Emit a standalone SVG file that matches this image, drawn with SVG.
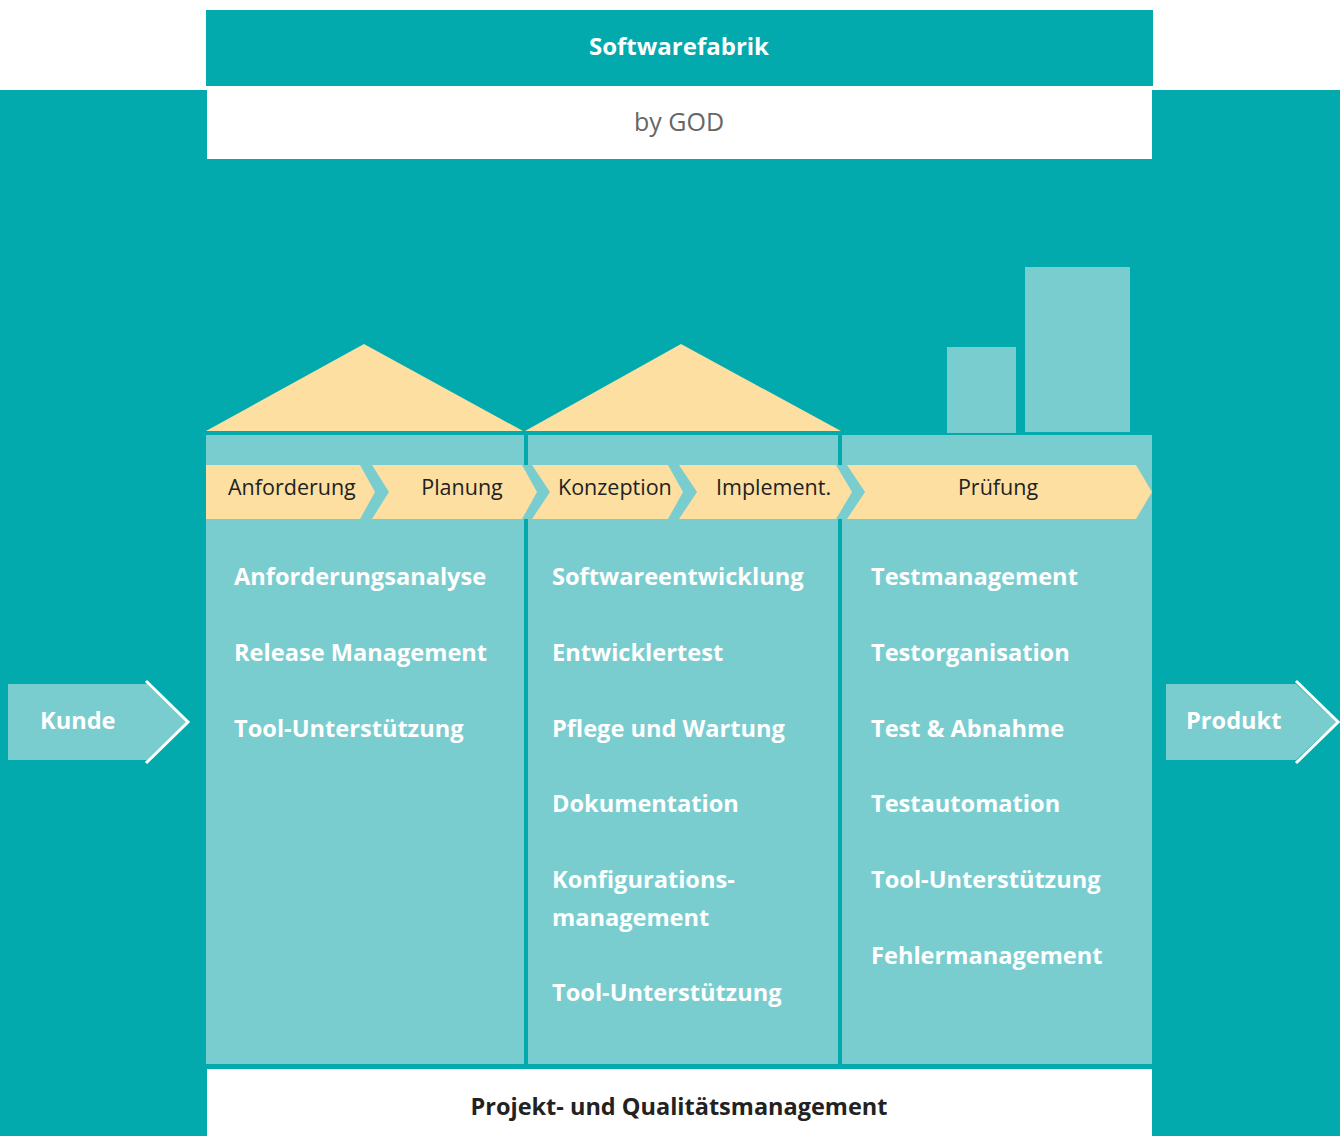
<svg xmlns="http://www.w3.org/2000/svg" width="1340" height="1136" viewBox="0 0 1340 1136">
<style>
.dark{fill:#02AAAD}
.light{fill:#7ACDCF}
.roof{fill:#FDDFA1}
.wh{fill:#FFFFFF}
text{font-family:"Open Sans","Liberation Sans",sans-serif}
.lbl{font-size:23.6px;font-weight:bold;fill:#FFFFFF}
.chev{font-size:21.5px;fill:#222222}
.arr{fill:none;stroke:#FFFFFF;stroke-width:3}
</style>
<rect x="0" y="0" width="1340" height="1136" class="wh"/>
<rect x="0" y="90" width="1340" height="1046" class="dark"/>
<g id="header">
<rect x="206" y="10" width="947" height="76" class="dark"/>
<text x="679" y="55" text-anchor="middle" style="font-size:24px;font-weight:bold;fill:#fff">Softwarefabrik</text>
</g>
<g id="subheader">
<rect x="207" y="90" width="945" height="69" class="wh"/>
<text x="679" y="131" text-anchor="middle" style="font-size:25px;fill:#666">by GOD</text>
</g>
<g id="roofs">
<polygon points="206,431 364,344 523,431" class="roof"/>
<polygon points="525,431 681,344 841,431" class="roof"/>
<rect x="947" y="347" width="69" height="86" class="light"/>
<rect x="1025" y="267" width="105" height="165" class="light"/>
</g>
<g id="panel">
<rect x="206" y="435" width="946" height="629" class="light"/>
<rect x="524" y="435" width="4" height="30" class="dark"/>
<rect x="524" y="519" width="4" height="545" class="dark"/>
<rect x="838" y="435" width="4" height="30" class="dark"/>
<rect x="838" y="519" width="4" height="545" class="dark"/>
</g>
<g id="phases">
<polygon points="206,465 360,465 375,492 360,519 206,519" class="roof"/>
<polygon points="372,465 522,465 537,492 522,519 372,519 389,492" class="roof"/>
<polygon points="532,465 668,465 683,492 668,519 532,519 550,492" class="roof"/>
<polygon points="679,465 836,465 852,492 836,519 679,519 697,492" class="roof"/>
<polygon points="847,465 1136,465 1152,492 1136,519 847,519 865,492" class="roof"/>
<text x="228" y="495" class="chev">Anforderung</text>
<text x="462" y="495" class="chev" text-anchor="middle">Planung</text>
<text x="558" y="495" class="chev">Konzeption</text>
<text x="716" y="495" class="chev">Implement.</text>
<text x="998" y="495" class="chev" text-anchor="middle">Prüfung</text>
</g>
<g id="col1">
<text x="234" y="585" class="lbl">Anforderungsanalyse</text>
<text x="234" y="661" class="lbl">Release Management</text>
<text x="234" y="737" class="lbl">Tool-Unterstützung</text>
</g>
<g id="col2">
<text x="552" y="585" class="lbl">Softwareentwicklung</text>
<text x="552" y="661" class="lbl">Entwicklertest</text>
<text x="552" y="737" class="lbl">Pflege und Wartung</text>
<text x="552" y="812" class="lbl">Dokumentation</text>
<text x="552" y="888" class="lbl">Konfigurations-</text>
<text x="552" y="926" class="lbl">management</text>
<text x="552" y="1001" class="lbl">Tool-Unterstützung</text>
</g>
<g id="col3">
<text x="871" y="585" class="lbl">Testmanagement</text>
<text x="871" y="661" class="lbl">Testorganisation</text>
<text x="871" y="737" class="lbl">Test &amp; Abnahme</text>
<text x="871" y="812" class="lbl">Testautomation</text>
<text x="871" y="888" class="lbl">Tool-Unterstützung</text>
<text x="871" y="964" class="lbl">Fehlermanagement</text>
</g>
<g id="footer">
<rect x="207" y="1069" width="945" height="67" class="wh"/>
<text x="679" y="1115" text-anchor="middle" style="font-size:23.5px;font-weight:bold;fill:#222">Projekt- und Qualitätsmanagement</text>
</g>
<g id="kunde">
<polygon points="8,684 147,684 187,722 147,760 8,760" class="light"/>
<polyline points="146,681 188,722 146,763" class="arr"/>
<text x="40" y="729" class="lbl">Kunde</text>
</g>
<g id="produkt">
<polygon points="1166,684 1296,684 1336,722 1296,760 1166,760" class="light"/>
<polyline points="1296,681 1338,722 1296,763" class="arr"/>
<text x="1186" y="729" class="lbl">Produkt</text>
</g>
<g id="connectors"></g>
</svg>
